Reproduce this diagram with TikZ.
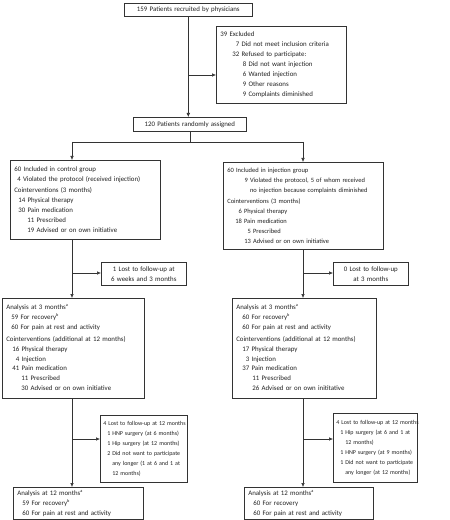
\documentclass[tikz,border=0pt]{standalone}
\usepackage{fontspec}
\setmainfont{Carlito}
\usetikzlibrary{arrows.meta}
\definecolor{linec}{HTML}{333333}
\definecolor{txtc}{HTML}{222222}
\newcommand\fsz{\fontsize{6.9}{10}\selectfont}
\newcommand\fszs{\fontsize{6.0}{10}\selectfont}
\newcommand\fszm{\fontsize{6.5}{10}\selectfont}
\newcommand\myind[1]{\hspace*{#1bp}}
\newcommand\dg{\phantom{0}}
\newcommand\sups[1]{\textsuperscript{\fontsize{4.3}{5}\selectfont #1}}
\newcommand\lns[1]{\begin{tabular}{@{}l@{}}#1\end{tabular}}
\begin{document}
\begin{tikzpicture}[x=1bp,y=-1bp,
  box/.style={draw=linec, line width=0.6bp, anchor=north west, inner xsep=4bp, inner ysep=1bp, align=left, font=\fsz, text=txtc},
  cbox/.style={box, align=center},
  conn/.style={draw=linec, line width=0.6bp},
  arr/.style={conn, -{Latex[length=4bp,width=3.6bp]}}]
\useasboundingbox (0,0) rectangle (450,520);
\fill[white] (0,0) rectangle (450,520);

\node[cbox, text width=120bp, minimum height=13bp] (top) at (124,3) {159 Patients recruited by physicians};
\node[box, text width=122bp, minimum height=77bp] (excl) at (216,26) {\lns{39 Excluded\\
\myind{12}\dg7 Did not meet inclusion criteria\\
\myind{12}32 Refused to participate:\\
\myind{19}\dg8 Did not want injection\\
\myind{19}\dg6 Wanted injection\\
\myind{19}\dg9 Other reasons\\
\myind{19}\dg9 Complaints diminished}};
\node[cbox, text width=105bp, minimum height=14bp] (rand) at (133,117) {120 Patients randomly assigned};

\node[box, text width=142bp, minimum height=79bp] (ctrl) at (10,160) {\lns{60 Included in control group\\
\myind{3}4 Violated the protocol (received injection)\\[1.5bp]
Cointerventions (3 months)\\
\myind{4}14 Physical therapy\\
\myind{4}30 Pain medication\\
\myind{13}11 Prescribed\\
\myind{13}19 Advised or on own initiative}};

\node[box, font=\fszm, text width=152bp, minimum height=87bp] (inj) at (223,162) {\lns{60 Included in injection group\\
\myind{14}\dg9 Violated the protocol, 5 of whom received\\
\myind{14}\dg\phantom{9 }no injection because complaints diminished\\[1.5bp]
Cointerventions (3 months)\\
\myind{8}\dg6 Physical therapy\\
\myind{8}18 Pain medication\\
\myind{17}\dg5 Prescribed\\
\myind{17}13 Advised or on own initiative}};

\node[cbox, text width=77bp, minimum height=23bp] (lostC1) at (101,262) {1 Lost to follow-up at\\6 weeks and 3 months};
\node[cbox, text width=67bp, minimum height=23bp] (lostI1) at (333,262) {0 Lost to follow-up\\at 3 months};

\node[box, text width=134bp, minimum height=100bp] (anaC3) at (2,298) {\lns{Analysis at 3 months\sups{a}\\
\myind{5}59 For recovery\sups{b}\\
\myind{5}60 For pain at rest and activity\\[1.5bp]
Cointerventions (additional at 12 months)\\
\myind{6}16 Physical therapy\\
\myind{6}\dg4 Injection\\
\myind{6}41 Pain medication\\
\myind{15}11 Prescribed\\
\myind{15}30 Advised or on own initiative}};

\node[box, text width=136bp, minimum height=100bp] (anaI3) at (232,298) {\lns{Analysis at 3 months\sups{a}\\
\myind{6}60 For recovery\sups{b}\\
\myind{6}60 For pain at rest and activity\\[1.5bp]
Cointerventions (additional at 12 months)\\
\myind{6}17 Physical therapy\\
\myind{6}\dg3 Injection\\
\myind{6}37 Pain medication\\
\myind{16}11 Prescribed\\
\myind{16}26 Advised or on own inititative}};

\node[box, font=\fszs, inner xsep=3bp, text width=81bp, minimum height=67bp] (lostC12) at (100,415) {\lns{4 Lost to follow-up at 12 months\\
\myind{4}1 HNP surgery (at 6 months)\\
\myind{4}1 Hip surgery (at 12 months)\\
\myind{4}2 Did not want to participate\\
\myind{4}\phantom{2 }any longer (1 at 6 and 1 at\\
\myind{4}\phantom{2 }12 months)}};

\node[box, font=\fszs, inner xsep=3bp, text width=78bp, minimum height=69bp] (lostI12) at (333,413) {\lns{4 Lost to follow-up at 12 months\\
\myind{4}1 Hip surgery (at 6 and 1 at\\
\myind{4}\phantom{1 }12 months)\\
\myind{4}1 HNP surgery (at 9 months)\\
\myind{4}1 Did not want to participate\\
\myind{4}\phantom{1 }any longer (at 12 months)}};

\node[box, text width=122bp, minimum height=32bp] (anaC12) at (13,487) {\lns{Analysis at 12 months\sups{a}\\
\myind{5}59 For recovery\sups{b}\\
\myind{5}60 For pain at rest and activity}};

\node[box, text width=121bp, minimum height=32bp] (anaI12) at (244,487) {\lns{Analysis at 12 months\sups{a}\\
\myind{5}60 For recovery\\
\myind{5}60 For pain at rest and activity}};

% connectors
\draw[arr] (top.south) -- (top.south |- rand.north);
\coordinate (jE) at (top.south |- 0,75);
\draw[arr] (jE) -- (jE -| excl.west);

\coordinate (jL) at (72,142);
\coordinate (jR) at (303,142);
\draw[conn] (rand.south) -- (rand.south |- jL);
\draw[conn] (jL) -- (jR);
\draw[arr] (jL) -- (jL |- ctrl.north);
\draw[arr] (jR) -- (jR |- inj.north);

\draw[arr] (jL |- ctrl.south) -- (jL |- anaC3.north);
\coordinate (bL1) at (72,273);
\draw[arr] (bL1) -- (bL1 -| lostC1.west);
\draw[arr] (jL |- anaC3.south) -- (jL |- anaC12.north);
\coordinate (bL2) at (72,439);
\draw[arr] (bL2) -- (bL2 -| lostC12.west);

\draw[arr] (jR |- inj.south) -- (jR |- anaI3.north);
\coordinate (bR1) at (303,273);
\draw[arr] (bR1) -- (bR1 -| lostI1.west);
\draw[arr] (jR |- anaI3.south) -- (jR |- anaI12.north);
\coordinate (bR2) at (303,439);
\draw[arr] (bR2) -- (bR2 -| lostI12.west);
\end{tikzpicture}
\end{document}
